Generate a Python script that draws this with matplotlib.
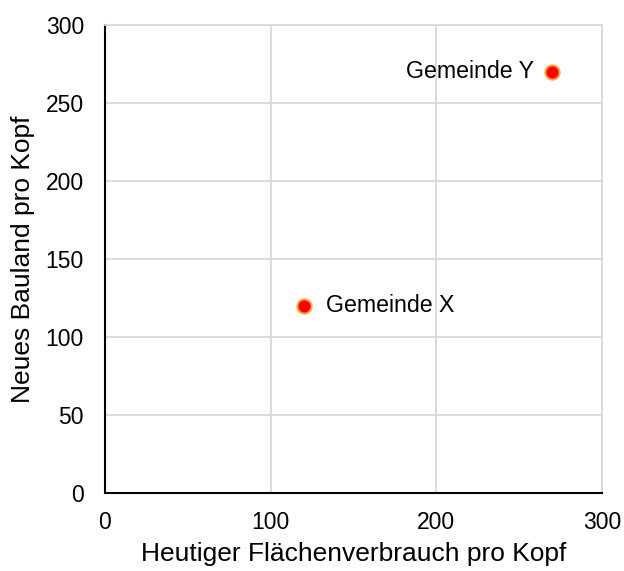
import matplotlib
matplotlib.use("Agg")
import matplotlib.pyplot as plt

names = ["Gemeinde X", "Gemeinde Y"]
x_vals = [120, 270]
y_vals = [120, 270]
ticks = [0, 50, 100, 150, 200, 250, 300]
xticks = [0, 100, 200, 300]

plt.rcParams['font.family'] = ['Liberation Sans', 'DejaVu Sans']
fig = plt.figure(figsize=(6.24, 5.71), dpi=100)
ax = fig.add_axes([0.168, 0.1366, 0.797, 0.8196])
ax.scatter(x_vals, y_vals, s=105, color='#ff0000', edgecolors='#f4a742', linewidths=1.5, zorder=3)
ax.annotate(names[0], (x_vals[0], y_vals[0]), xytext=(16, 0), textcoords='offset points',
            va='center', ha='left', fontsize=16.7, color='#000000')
ax.annotate(names[1], (x_vals[1], y_vals[1]), xytext=(-13, 0), textcoords='offset points',
            va='center', ha='right', fontsize=16.7, color='#000000')
ax.set_xlim(0, 300)
ax.set_ylim(0, 300)
ax.set_xticks(xticks)
ax.set_yticks(ticks)
ax.grid(True, color='#d9d9d9', linewidth=1.3)
ax.set_axisbelow(True)
for s in ['top', 'right']:
    ax.spines[s].set_color('#d9d9d9')
    ax.spines[s].set_linewidth(1.3)
for s in ['left', 'bottom']:
    ax.spines[s].set_color('#000000')
    ax.spines[s].set_linewidth(1.5)
ax.tick_params(axis='y', length=0, labelsize=16.5, pad=15)
ax.tick_params(axis='x', length=0, labelsize=16.5, pad=13)
ax.set_xlabel("Heutiger Flächenverbrauch pro Kopf", fontsize=19, labelpad=6)
ax.set_ylabel("Neues Bauland pro Kopf", fontsize=19, labelpad=8)
fig.savefig("out.png", dpi=100)
